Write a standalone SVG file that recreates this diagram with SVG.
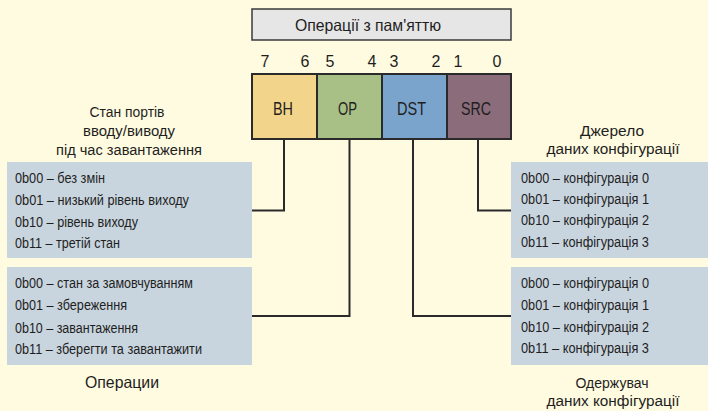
<svg xmlns="http://www.w3.org/2000/svg" width="708" height="411" viewBox="0 0 708 411">
<style>
text{font-family:"Liberation Sans",Arial,sans-serif;fill:#1e1e1e}
.lbl{font-size:16.5px;text-anchor:middle}
.lbl2{font-size:15.5px;text-anchor:middle}
.item{font-size:14px}
.bit{font-size:16px;text-anchor:middle}
.fld{font-size:18px;text-anchor:middle}
.box{fill:#c9d5de}
.conn{fill:none;stroke:#2a2a2a;stroke-width:2}
.reg{stroke:#2a2a2a;stroke-width:2}
</style>
<rect width="708" height="411" fill="#fffbe0"/>
<g id="title">
<rect x="252" y="9" width="259" height="31" fill="#e6e6e6" stroke="#3a3a3a" stroke-width="1.5"/>
<text class="lbl" x="368" y="31" font-size="17.5" textLength="146" lengthAdjust="spacingAndGlyphs">Операції з пам'яттю</text>
</g>
<g id="bits">
<text class="bit" x="265" y="67">7</text>
<text class="bit" x="305" y="67">6</text>
<text class="bit" x="330" y="67">5</text>
<text class="bit" x="372" y="67">4</text>
<text class="bit" x="394" y="67">3</text>
<text class="bit" x="436" y="67">2</text>
<text class="bit" x="458" y="67">1</text>
<text class="bit" x="497" y="67">0</text>
</g>
<g id="connectors">
<polyline class="conn" points="284,139 284,210.5 252,210.5"/>
<polyline class="conn" points="349.5,139 349.5,316 252,316"/>
<polyline class="conn" points="413,139 413,316 511,316"/>
<polyline class="conn" points="478,139 478,210.5 511,210.5"/>
</g>
<g id="BH">
<rect class="reg" x="252" y="74" width="65" height="65" fill="#f2d58a"/>
<text class="fld" x="283" y="115" textLength="20" lengthAdjust="spacingAndGlyphs">BH</text>
</g>
<g id="OP">
<rect class="reg" x="317" y="74" width="65" height="65" fill="#a8bf86"/>
<text class="fld" x="347.5" y="115" textLength="19" lengthAdjust="spacingAndGlyphs">OP</text>
</g>
<g id="DST">
<rect class="reg" x="382" y="74" width="65" height="65" fill="#7ba4cc"/>
<text class="fld" x="411.5" y="115" textLength="29" lengthAdjust="spacingAndGlyphs">DST</text>
</g>
<g id="SRC">
<rect class="reg" x="447" y="74" width="64" height="65" fill="#8a6c7b"/>
<text class="fld" x="476" y="115" textLength="30" lengthAdjust="spacingAndGlyphs">SRC</text>
</g>
<g id="bh-legend">
<text class="lbl2" x="127" y="117" textLength="75" lengthAdjust="spacingAndGlyphs">Стан портів</text>
<text class="lbl2" x="129" y="136" textLength="92" lengthAdjust="spacingAndGlyphs">вводу/виводу</text>
<text class="lbl2" x="129" y="155" textLength="146" lengthAdjust="spacingAndGlyphs">під час завантаження</text>
<rect class="box" x="7" y="162" width="245" height="96"/>
<text class="item" x="15" y="183" textLength="90" lengthAdjust="spacingAndGlyphs">0b00 – без змін</text>
<text class="item" x="15" y="205" textLength="174" lengthAdjust="spacingAndGlyphs">0b01 – низький рівень виходу</text>
<text class="item" x="15" y="227" textLength="123" lengthAdjust="spacingAndGlyphs">0b10 – рівень виходу</text>
<text class="item" x="15" y="248" textLength="105" lengthAdjust="spacingAndGlyphs">0b11 – третій стан</text>
</g>
<g id="op-legend">
<rect class="box" x="7" y="267" width="245" height="98"/>
<text class="item" x="15" y="288" textLength="178" lengthAdjust="spacingAndGlyphs">0b00 – стан за замовчуванням</text>
<text class="item" x="15" y="310" textLength="112" lengthAdjust="spacingAndGlyphs">0b01 – збереження</text>
<text class="item" x="15" y="333" textLength="123" lengthAdjust="spacingAndGlyphs">0b10 – завантаження</text>
<text class="item" x="15" y="354" textLength="187" lengthAdjust="spacingAndGlyphs">0b11 – зберегти та завантажити</text>
<text class="lbl" x="122" y="388" textLength="74" lengthAdjust="spacingAndGlyphs">Операции</text>
</g>
<g id="src-legend">
<text class="lbl2" x="612" y="136" textLength="64" lengthAdjust="spacingAndGlyphs">Джерело</text>
<text class="lbl2" x="613" y="154" textLength="133" lengthAdjust="spacingAndGlyphs">даних конфігурації</text>
<rect class="box" x="511" y="162" width="197" height="96"/>
<text class="item" x="521" y="183" textLength="128" lengthAdjust="spacingAndGlyphs">0b00 – конфігурація 0</text>
<text class="item" x="521" y="204" textLength="128" lengthAdjust="spacingAndGlyphs">0b01 – конфігурація 1</text>
<text class="item" x="521" y="225" textLength="128" lengthAdjust="spacingAndGlyphs">0b10 – конфігурація 2</text>
<text class="item" x="521" y="247" textLength="128" lengthAdjust="spacingAndGlyphs">0b11 – конфігурація 3</text>
</g>
<g id="dst-legend">
<rect class="box" x="511" y="267" width="197" height="98"/>
<text class="item" x="521" y="288" textLength="128" lengthAdjust="spacingAndGlyphs">0b00 – конфігурація 0</text>
<text class="item" x="521" y="310" textLength="128" lengthAdjust="spacingAndGlyphs">0b01 – конфігурація 1</text>
<text class="item" x="521" y="332" textLength="128" lengthAdjust="spacingAndGlyphs">0b10 – конфігурація 2</text>
<text class="item" x="521" y="353" textLength="128" lengthAdjust="spacingAndGlyphs">0b11 – конфігурація 3</text>
<text class="lbl2" x="612" y="388" textLength="73" lengthAdjust="spacingAndGlyphs">Одержувач</text>
<text class="lbl2" x="613" y="406" textLength="133" lengthAdjust="spacingAndGlyphs">даних конфігурації</text>
</g>
</svg>
